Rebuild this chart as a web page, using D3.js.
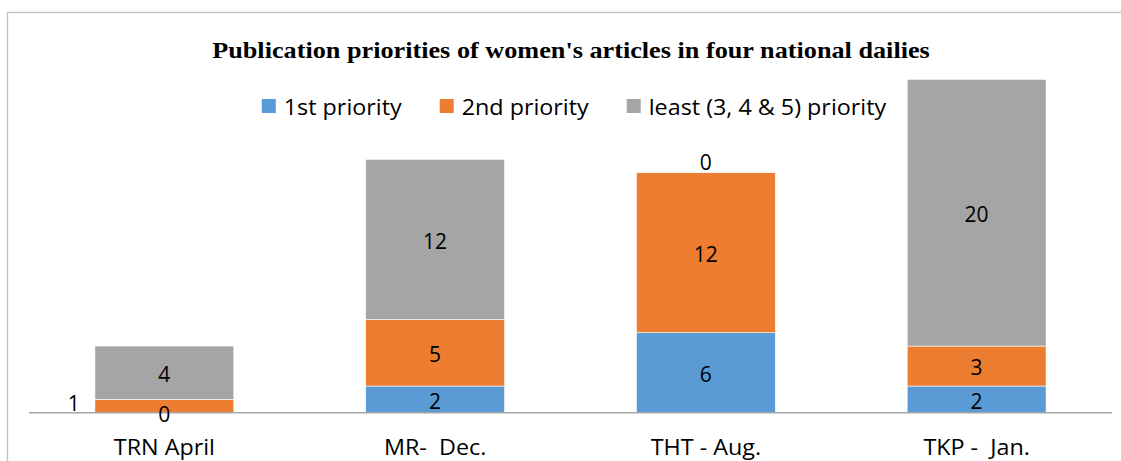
<!DOCTYPE html>
<html>
<head>
<meta charset="utf-8">
<script src="https://cdn.jsdelivr.net/npm/d3@7"></script>
<style>
  body { margin: 0; background: #fff; }
  svg text { font-family: "Open Sans", sans-serif; fill: #000; }
</style>
</head>
<body>
<div id="chart"></div>
<script>
/* DATA */
const categories = ["TRN April", "MR-  Dec.", "THT - Aug.", "TKP -  Jan."];
const seriesNames = ["1st priority", "2nd priority", "least (3, 4 & 5) priority"];
const firstPriority = [0, 2, 6, 2];
const secondPriority = [1, 5, 12, 3];
const leastPriority = [4, 12, 0, 20];
const yMax = 25;

/* CONSTANTS */
const width = 1121,
  height = 461,
  colors = ["#5b9bd5", "#ed7d31", "#a5a5a5"],
  plot = { left: 29, right: 1112, top: 79.4, bottom: 412.7 };

// labels that were dragged by hand in the original
const labelNudge = {
  "2nd priority|TRN April": { dx: -90.5, dy: -4 },
  "least (3, 4 & 5) priority|THT - Aug.": { dx: 0, dy: -12.5 }
};

// the original text runs a bit wider than our fonts, stretch it to fit
function stretch(sel, k) {
  sel.each(function () {
    const w = this.getComputedTextLength();
    d3.select(this)
      .attr("textLength", w * k)
      .attr("lengthAdjust", "spacingAndGlyphs");
  });
}

const rows = categories.map((c, i) => ({
  category: c,
  "1st priority": firstPriority[i],
  "2nd priority": secondPriority[i],
  "least (3, 4 & 5) priority": leastPriority[i]
}));

const stacked = d3.stack().keys(seriesNames)(rows);

const svg = d3.select("#chart").append("svg")
  .attr("width", width)
  .attr("height", height);

// chart frame
svg.append("rect")
  .attr("x", 7.5).attr("y", 12.5)
  .attr("width", width + 20).attr("height", height + 20)
  .attr("fill", "none")
  .attr("stroke", "#bfbfbf")
  .attr("stroke-width", 1.3);

const xScale = d3.scaleBand()
  .domain(categories)
  .range([plot.left, plot.right])
  .paddingInner(0.487)
  .paddingOuter(0.2435);

const yScale = d3.scaleLinear()
  .domain([0, yMax])
  .range([plot.bottom, plot.top]);

const color = d3.scaleOrdinal().domain(seriesNames).range(colors);

// title
svg.append("text")
  .attr("x", 571).attr("y", 57.5)
  .attr("text-anchor", "middle")
  .style("font-family", "'Liberation Serif', 'Times New Roman', serif")
  .style("font-weight", "bold")
  .style("font-size", "23px")
  .text("Publication priorities of women's articles in four national dailies")
  .call(stretch, 1.14);

// bars
const layer = svg.append("g").selectAll("g")
  .data(stacked)
  .join("g")
  .attr("fill", d => color(d.key));

layer.selectAll("rect")
  .data(d => d.map(s => ({ key: d.key, s })))
  .join("rect")
  .attr("x", d => xScale(d.s.data.category))
  .attr("width", xScale.bandwidth())
  .attr("y", d => yScale(d.s[1]))
  .attr("height", d => yScale(d.s[0]) - yScale(d.s[1]))
  .attr("stroke", "#fff")
  .attr("stroke-width", 0.6);

// x axis
const xAxis = d3.axisBottom(xScale).tickSize(0).tickPadding(0);
const gx = svg.append("g")
  .attr("transform", `translate(0,${plot.bottom})`)
  .call(xAxis);
gx.select(".domain")
  .attr("d", `M${plot.left},0H${plot.right}`)
  .attr("stroke", "#a6a6a6")
  .attr("stroke-width", 1.5);
gx.selectAll(".tick text")
  .attr("y", 42)
  .attr("dy", 0)
  .style("font-family", "'Open Sans', sans-serif")
  .style("font-size", "21px")
  .style("white-space", "pre")
  .attr("fill", "#000")
  .call(stretch, 1.11);

// data labels
const labels = [];
stacked.forEach(layerData => {
  layerData.forEach(s => {
    const nudge = labelNudge[layerData.key + "|" + s.data.category] || { dx: 0, dy: 0 };
    labels.push({
      text: s.data[layerData.key],
      x: xScale(s.data.category) + xScale.bandwidth() / 2 + nudge.dx,
      y: (yScale(s[0]) + yScale(s[1])) / 2 + nudge.dy
    });
  });
});

svg.append("g").selectAll("text")
  .data(labels)
  .join("text")
  .attr("x", d => d.x)
  .attr("y", d => d.y)
  .attr("dy", "0.45em")
  .attr("text-anchor", "middle")
  .style("font-size", "21px")
  .text(d => d.text);

// legend
const legend = svg.append("g");
const items = legend.selectAll("g")
  .data(seriesNames)
  .join("g");
items.append("rect")
  .attr("width", 14).attr("height", 14)
  .attr("y", -16)
  .attr("fill", d => color(d));
items.append("text")
  .attr("x", 22)
  .attr("y", 0)
  .style("font-size", "21px")
  .text(d => d)
  .call(stretch, 1.11);

let cursor = 0;
const gap = 38;
items.each(function () {
  const w = +d3.select(this).select("text").attr("textLength");
  d3.select(this).attr("transform", `translate(${cursor},0)`);
  cursor += 22 + w + gap;
});
const total = cursor - gap;
legend.attr("transform", `translate(${574 - total / 2},115)`);
</script>
</body>
</html>
